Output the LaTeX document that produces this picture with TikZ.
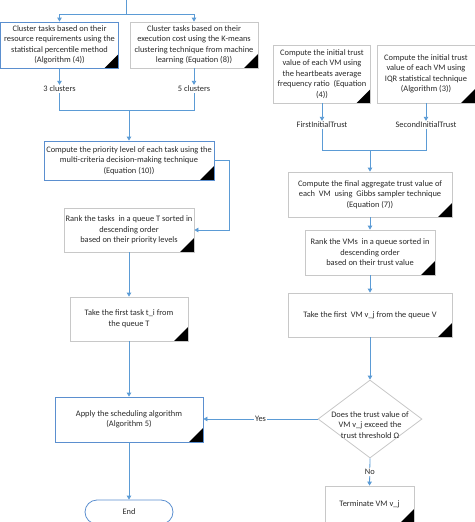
\documentclass[tikz,border=0pt]{standalone}
\usepackage{fontspec}
\setmainfont{Carlito}
\usetikzlibrary{shapes.geometric,arrows.meta}
\definecolor{arrblue}{HTML}{5B9BD5}
\definecolor{bordblue}{HTML}{5B8FCF}
\definecolor{bordgrey}{HTML}{C8C8C8}
\definecolor{txtc}{HTML}{2A2A2A}
\begin{document}
\begin{tikzpicture}[x=1pt,y=-1pt,
 every node/.style={font=\fontsize{8.4}{10.5}\selectfont, text=txtc},
 box/.style={draw=bordgrey, line width=0.8pt, fill=white, align=center, inner sep=1pt,
   path picture={\fill[black] (path picture bounding box.south east) -- ++(-14pt,0pt) -- ++(14pt,14pt) -- cycle;}},
 bbox/.style={box, draw=bordblue},
 lbl/.style={inner sep=1pt},
 ln/.style={draw=arrblue, line width=0.8pt},
 arr/.style={ln, -{Triangle[width=4.5pt,length=4pt]}},
]
\useasboundingbox (0,0) rectangle (474,522);

% left column
\node[bbox, minimum width=118pt, minimum height=46pt] (A1) at (59.5,45) {Cluster tasks based on their\\resource requirements using the\\statistical percentile method\\(Algorithm (4))};
\node[box, minimum width=128pt, minimum height=46pt] (A2) at (194,45) {Cluster tasks based on their\\execution cost using the K-means\\clustering technique from machine\\learning (Equation (8))};
\node[lbl] (l3) at (59.5,89) {3 clusters};
\node[lbl] (l5) at (194,89) {5 clusters};
\node[bbox, minimum width=170pt, minimum height=39pt] (B) at (129,160.5) {Compute the priority level of each task using the\\multi-criteria decision-making technique\\(Equation (10))};
\node[box, minimum width=130pt, minimum height=44pt] (C) at (129,230) {Rank the tasks\ \ in a queue T sorted in\\descending order\\based on their priority levels};
\node[box, minimum width=118pt, minimum height=44pt] (D) at (129,319) {Take the first task t\_i from\\the queue T};
\node[bbox, minimum width=148pt, minimum height=45pt] (E) at (129,419.5) {Apply the scheduling algorithm\\(Algorithm 5)};
\node[draw=bordblue, line width=0.8pt, rounded corners=12pt, minimum width=88pt, minimum height=24pt] (End) at (129,512) {End};

% right column
\node[box, minimum width=97pt, minimum height=58pt] (F1) at (322,74) {Compute the initial trust\\value of each VM using\\the heartbeats average\\frequency ratio\ \ (Equation\\(4))};
\node[box, minimum width=98pt, minimum height=58pt] (F2) at (426,74) {Compute the initial trust\\value of each VM using\\IQR statistical technique\\(Algorithm (3))};
\node[lbl] (lf) at (322,125) {FirstInitialTrust};
\node[lbl] (ls) at (426,125) {SecondInitialTrust};
\node[box, minimum width=164pt, minimum height=45pt] (G) at (370,194.5) {Compute the final aggregate trust value of\\each\ \ VM\ \ using\ \ Gibbs sampler technique\\(Equation (7))};
\node[box, minimum width=130pt, minimum height=45pt] (H) at (370,252.5) {Rank the VMs\ \ in a queue sorted in\\descending order\\based on their trust value};
\node[box, minimum width=164pt, minimum height=44pt] (I) at (370,315) {Take the first\ \ VM v\_j from the queue V};
\node[draw=bordgrey, line width=0.8pt, fill=white, shape=diamond, inner sep=0pt, minimum width=104pt, minimum height=78pt] (J) at (370,419) {};
\node[align=center, inner sep=0pt] (Jt) at (370,425) {Does the trust value of\\VM v\_j exceed the\\trust threshold Ω};
\node[box, minimum width=89pt, minimum height=37pt] (K) at (369.5,504.5) {Terminate VM v\_j};

% connectors left
\coordinate (tp) at (126,0);
\coordinate (t1) at (126,14);
\draw[ln] (tp) -- (t1);
\draw[arr] (t1) -| (A1.north);
\draw[arr] (t1) -| (A2.north);
\draw[arr] (A1.south) -- (l3.north);
\draw[arr] (A2.south) -- (l5.north);
\coordinate (j1) at (129,110);
\draw[ln] (l3.south) |- (j1);
\draw[ln] (l5.south) |- (j1);
\draw[arr] (j1) -- (B.north);
\draw[arr] (B.east) -- ++(15,0) |- (C.east);
\draw[arr] (C) -- (D);
\draw[arr] (D) -- (E);
\draw[arr] (E) -- (End);

% connectors right
\draw[arr] (F1.south) -- (F1.south |- lf.north);
\draw[arr] (F2.south) -- (F2.south |- ls.north);
\coordinate (j2) at (370,150);
\draw[ln] (lf.south) |- (j2);
\draw[ln] (ls.south) |- (j2);
\draw[arr] (j2) -- (G.north);
\draw[arr] (G) -- (H);
\draw[arr] (H) -- (I);
\draw[arr] (I) -- (J);
\draw[arr] (J.west) -- (J.west -| E.east) node[midway, fill=white, inner sep=1pt] (yes) {Yes};
\draw[arr] (J.south) -- (K.north) node[midway, fill=white, inner sep=1pt] (no) {No};
\end{tikzpicture}
\end{document}
